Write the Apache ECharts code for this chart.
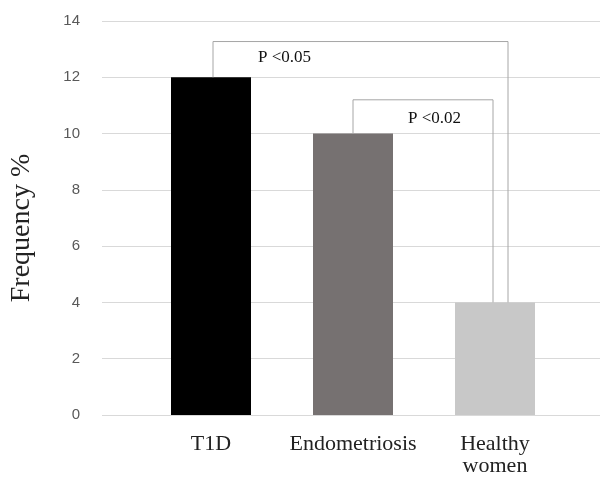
<!DOCTYPE html>
<html>
<head>
<meta charset="utf-8">
<script src="https://cdn.jsdelivr.net/npm/echarts@6/dist/echarts.min.js"></script>
<style>html,body{margin:0;padding:0;background:#fff}#c{width:601px;height:479px}</style>
</head>
<body>
<div id="c"></div>
<script>
const categories = ['T1D', 'Endometriosis', 'Healthy women'];
const frequency = [12, 10, 4];
const barColors = ['#000000', '#767171', '#c8c8c8'];
const yTicks = { min: 0, max: 14, interval: 2 };
// brackets: [from category, to category, top of bracket, label]
const brackets = [
  [0, 2, 13.27, 'P <0.05'],
  [1, 2, 11.2, 'P <0.02']
];
// small horizontal offsets (px) for bracket legs and label positions
const bracketStyle = [
  { leftDx: 2, rightDx: 13, textDx: 47, textVal: 12.69 },
  { leftDx: 0, rightDx: -2, textDx: 55, textVal: 10.52 }
];

const chart = echarts.init(document.getElementById('c'));
const gTop = 21, gBottom = 64;
chart.setOption({
  animation: false,
  backgroundColor: '#fff',
  grid: [
    { left: 100, right: 1, top: gTop, bottom: gBottom },
    { left: 140, right: 35, top: gTop, bottom: gBottom }
  ],
  xAxis: [
    { gridIndex: 0, type: 'value', show: false, min: 0, max: 1 },
    {
      gridIndex: 1, type: 'category', data: categories,
      axisLine: { show: false }, axisTick: { show: false },
      axisLabel: {
        interval: 0, margin: 18, fontFamily: 'Liberation Serif', fontSize: 22, color: '#222',
        lineHeight: 22, formatter: v => v.replace(' ', '\n')
      }
    }
  ],
  yAxis: [
    {
      gridIndex: 0, type: 'value', min: yTicks.min, max: yTicks.max, interval: yTicks.interval,
      name: 'Frequency %', nameLocation: 'middle', nameGap: 66,
      nameTextStyle: { fontFamily: 'Liberation Serif', fontSize: 28, color: '#222', padding: [0, 20, 0, 0] },
      axisLine: { show: false }, axisTick: { show: false },
      axisLabel: { margin: 22, fontFamily: 'Liberation Sans', fontSize: 15, color: '#595959' },
      splitLine: { lineStyle: { color: '#d9d9d9', width: 1 } }
    },
    {
      gridIndex: 1, type: 'value', min: yTicks.min, max: yTicks.max, interval: yTicks.interval,
      show: false, splitLine: { show: false }
    }
  ],
  series: [
    {
      type: 'bar', xAxisIndex: 1, yAxisIndex: 1, barWidth: 80,
      data: frequency.map((v, i) => ({ value: v, itemStyle: { color: barColors[i] } }))
    },
    {
      type: 'custom', xAxisIndex: 1, yAxisIndex: 1, silent: true, z: 5,
      data: brackets.map((b, i) => [b[0], b[1], b[2], i]),
      renderItem: function (params, api) {
        const i = api.value(3);
        const b = brackets[i], s = bracketStyle[i];
        const pFrom = api.coord([b[0], frequency[b[0]]]);
        const pTo = api.coord([b[1], frequency[b[1]]]);
        const yTop = api.coord([b[0], b[2]])[1];
        const xl = pFrom[0] + s.leftDx, xr = pTo[0] + s.rightDx;
        const pt = api.coord([b[0], s.textVal]);
        return {
          type: 'group',
          children: [
            {
              type: 'polyline',
              shape: { points: [[xl, pFrom[1]], [xl, yTop], [xr, yTop], [xr, pTo[1]]] },
              style: { stroke: '#a6a6a6', lineWidth: 1, fill: null }
            },
            {
              type: 'text',
              style: {
                x: pFrom[0] + s.textDx, y: pt[1], text: b[3],
                font: '17px "Liberation Serif"', fill: '#111',
                verticalAlign: 'middle'
              }
            }
          ]
        };
      }
    }
  ]
});
</script>
</body>
</html>
